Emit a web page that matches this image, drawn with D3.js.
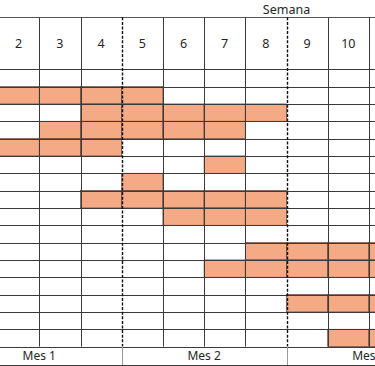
<!DOCTYPE html>
<html>
<head>
	<title>Gantt</title>
	<script src="https://d3js.org/d3.v7.min.js"></script>
	<style type="text/css">
		body { margin: 0; background: #fff; }
		text { font-family: "Noto Sans", "Open Sans", sans-serif; fill: #262626; }
	</style>
</head>
<body>
<div id="svg"></div>
<script type="text/javascript">
	var width = 375,
	    height = 366;

	// data
	var weeks = [1, 2, 3, 4, 5, 6, 7, 8, 9, 10, 11, 12];
	var tasks = ["T1", "T2", "T3", "T4", "T5", "T6", "T7", "T8",
	             "T9", "T10", "T11", "T12", "T13", "T14", "T15", "T16"];
	var taskStart = [null, 1, 4, 3, 1, 7, 5, 4, 6, null, 8, 7, null, 9, null, 10];
	var taskEnd   = [null, 5, 8, 7, 4, 7, 5, 8, 8, null, 12, 12, null, 12, null, 12];
	var months = ["Mes 1", "Mes 2", "Mes 3"];
	var monthStart = [1, 5, 9];
	var monthEnd = [4, 8, 12];

	var headTop = 17.3, headBottom = 69.3, gridBottom = 346.6, monthBottom = 365;

	var svg = d3.select("#svg")
	    .append("svg")
	    .attr("width", width)
	    .attr("height", height);

	// left edge of week w
	var x = d3.scaleLinear()
	    .domain([1, 13])
	    .range([-43.1, 451.3]);

	var y = d3.scaleBand()
	    .domain(tasks)
	    .range([headBottom, gridBottom]);

	var px = v => Math.round(v) + 0.5;

	// filled cells
	var cells = [];
	tasks.forEach(function(t, i) {
	    if (taskStart[i] == null) return;
	    d3.range(taskStart[i], taskEnd[i] + 1).forEach(function(w) {
	        cells.push({task: t, week: w});
	    });
	});

	svg.selectAll(".cell")
	    .data(cells)
	    .enter()
	    .append("rect")
	    .attr("class", "cell")
	    .attr("x", d => x(d.week))
	    .attr("width", d => x(d.week + 1) - x(d.week))
	    .attr("y", d => y(d.task))
	    .attr("height", y.bandwidth())
	    .attr("fill", "#f3aa85")
	    .attr("stroke", "#5e4136")
	    .attr("stroke-width", 0.7);

	// horizontal lines
	var hLines = [headTop, headBottom].concat(tasks.slice(1).map(t => y(t)), [gridBottom, monthBottom]);
	svg.selectAll(".hline")
	    .data(hLines)
	    .enter()
	    .append("line")
	    .attr("x1", 0)
	    .attr("x2", width)
	    .attr("y1", d => px(d))
	    .attr("y2", d => px(d))
	    .attr("stroke", d => d == headTop ? "#555" : "#3a3a3a")
	    .attr("stroke-width", 1);

	// vertical week lines
	var bounds = weeks.slice(1);
	svg.selectAll(".vline")
	    .data(bounds)
	    .enter()
	    .append("line")
	    .attr("x1", d => px(x(d)))
	    .attr("x2", d => px(x(d)))
	    .attr("y1", headTop)
	    .attr("y2", gridBottom)
	    .attr("stroke", d => monthStart.indexOf(d) >= 0 ? "#111" : "#3a3a3a")
	    .attr("stroke-width", d => monthStart.indexOf(d) >= 0 ? 1.4 : 1)
	    .attr("stroke-dasharray", d => monthStart.indexOf(d) >= 0 ? "3,1.6" : null);

	// week labels (only columns whose centre is in view)
	svg.selectAll(".wlabel")
	    .data(weeks.filter(w => (x(w) + x(w + 1)) / 2 > 0 && (x(w) + x(w + 1)) / 2 < width))
	    .enter()
	    .append("text")
	    .attr("x", d => (x(d) + x(d + 1)) / 2)
	    .attr("y", (headTop + headBottom) / 2 + 4.5)
	    .attr("text-anchor", "middle")
	    .attr("font-size", 12.5)
	    .text(d => d);

	svg.append("text")
	    .attr("x", x(9))
	    .attr("y", 14)
	    .attr("text-anchor", "middle")
	    .attr("font-size", 12.5)
	    .text("Semana");

	// month row
	svg.selectAll(".mline")
	    .data(monthStart.slice(1))
	    .enter()
	    .append("line")
	    .attr("x1", d => px(x(d)))
	    .attr("x2", d => px(x(d)))
	    .attr("y1", gridBottom)
	    .attr("y2", monthBottom)
	    .attr("stroke", "#999")
	    .attr("stroke-width", 1);

	svg.selectAll(".mlabel")
	    .data(months)
	    .enter()
	    .append("text")
	    .attr("x", (d, i) => (x(monthStart[i]) + x(monthEnd[i] + 1)) / 2)
	    .attr("y", (gridBottom + monthBottom) / 2 + 4.5)
	    .attr("text-anchor", "middle")
	    .attr("font-size", 12)
	    .text(d => d);
</script>
</body>
</html>
